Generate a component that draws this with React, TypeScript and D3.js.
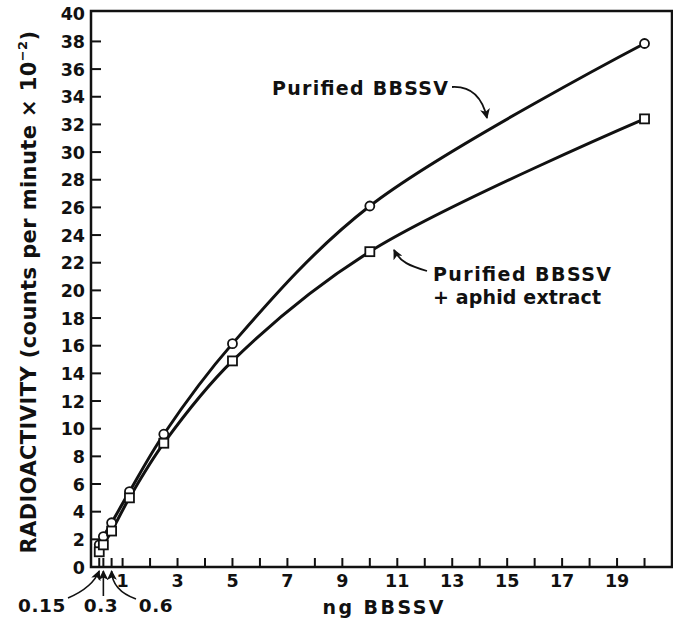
import React, { useEffect, useRef } from 'react'
import * as d3 from 'd3'

// ng BBSSV on the x axis
const doses = [0.15, 0.3, 0.6, 1.25, 2.5, 5, 10, 20]
// radioactivity, counts per minute x 10^-2
const purified = [1.6, 2.2, 3.2, 5.45, 9.6, 16.15, 26.1, 37.85]
const withAphid = [1.1, 1.6, 2.6, 5.0, 8.95, 14.9, 22.8, 32.4]

const xTicks = [0.15, 0.3, 0.6, 1, 2, 3, 4, 5, 6, 7, 8, 9, 10, 11, 12, 13, 14, 15, 16, 17, 18, 19, 20]
const xTickLabels = [1, 3, 5, 7, 9, 11, 13, 15, 17, 19]
const yTicks = [2, 4, 6, 8, 10, 12, 14, 16, 18, 20, 22, 24, 26, 28, 30, 32, 34, 36, 38]
const yTickLabels = [0, 2, 4, 6, 8, 10, 12, 14, 16, 18, 20, 22, 24, 26, 28, 30, 32, 34, 36, 38, 40]
const smallDoseLabels = ['0.15', '0.3', '0.6']

const W = 673, H = 619
const FONT = '"DejaVu Sans", "Liberation Sans", Arial, sans-serif'

export default function App() {
  const ref = useRef<SVGSVGElement>(null)

  useEffect(() => {
    const svg = d3.select(ref.current)
    svg.selectAll('*').remove()

    const left = 91, right = 672, top = 11, bottom = 567
    const x = d3.scaleLinear().domain([-0.15, 21]).range([left, right])
    const y = d3.scaleLinear().domain([0, 40.2]).range([bottom, top])

    const defs = svg.append('defs')
    defs.append('marker')
      .attr('id', 'arrow')
      .attr('viewBox', '0 0 10 10')
      .attr('refX', 9).attr('refY', 5)
      .attr('markerWidth', 10).attr('markerHeight', 10)
      .attr('markerUnits', 'userSpaceOnUse')
      .attr('orient', 'auto')
      .append('path')
      .attr('d', 'M0,0 L10,5 L0,10 L2.5,5 Z')
      .attr('fill', '#111')

    const g = svg.append('g')

    // frame
    g.append('path')
      .attr('d', `M${left},${bottom} L${left},${top} L${right},${top} L${right},${bottom} Z`)
      .attr('fill', 'none').attr('stroke', '#111').attr('stroke-width', 2.5)

    // inward ticks
    g.selectAll('line.xt').data(xTicks).enter().append('line')
      .attr('x1', d => x(d)).attr('x2', d => x(d))
      .attr('y1', bottom).attr('y2', bottom - 9)
      .attr('stroke', '#111').attr('stroke-width', 2)
    g.selectAll('line.yt').data(yTicks).enter().append('line')
      .attr('x1', left).attr('x2', left + 10)
      .attr('y1', d => y(d)).attr('y2', d => y(d))
      .attr('stroke', '#111').attr('stroke-width', 2)

    const labelStyle = (sel: any, size: number) => sel
      .style('font-family', FONT).style('font-weight', 'bold')
      .style('font-size', size + 'px').attr('fill', '#111')

    labelStyle(g.selectAll('text.yl').data(yTickLabels).enter().append('text')
      .attr('x', 85).attr('y', d => y(d) + 6.5)
      .attr('text-anchor', 'end')
      .text(d => d), 17.5)

    labelStyle(g.selectAll('text.xl').data(xTickLabels).enter().append('text')
      .attr('x', d => x(d)).attr('y', 587)
      .attr('text-anchor', 'middle')
      .text(d => d), 17.5)

    // small doses below the axis with arrows
    const smallX = [42, 101, 156]
    labelStyle(g.selectAll('text.sl').data(smallDoseLabels).enter().append('text')
      .attr('x', (d, i) => smallX[i]).attr('y', 612)
      .attr('text-anchor', 'middle')
      .style('letter-spacing', '0.6px')
      .text(d => d), 18.5)
    const smallArrows = [
      `M68,598 C82,592 94,584 ${x(0.15)},${bottom + 4}`,
      `M${x(0.3)},596 L${x(0.3)},${bottom + 4}`,
      `M136,599 C122,594 112,586 ${x(0.6)},${bottom + 4}`,
    ]
    g.selectAll('path.sa').data(smallArrows).enter().append('path')
      .attr('d', d => d)
      .attr('fill', 'none').attr('stroke', '#111').attr('stroke-width', 1.6)
      .attr('marker-end', 'url(#arrow)')

    // axis titles
    labelStyle(g.append('text')
      .attr('x', 383).attr('y', 614)
      .attr('text-anchor', 'middle')
      .attr('textLength', 121).attr('lengthAdjust', 'spacing')
      .text('ng BBSSV'), 19)

    const yt = labelStyle(g.append('text')
      .attr('transform', 'translate(36,292) rotate(-90)')
      .attr('text-anchor', 'middle')
      .style('letter-spacing', '0.4px'), 21)
    yt.append('tspan').text('RADIOACTIVITY (counts per minute \u00d7 10')
    yt.append('tspan').attr('dy', -9).style('font-size', '13px').text('\u2212' + '2')
    yt.append('tspan').attr('dy', 9).text(')')

    // curves
    const series = [purified, withAphid]
    const line = d3.line<number>()
      .x((d, i) => x(doses[i]))
      .y(d => y(d))
      .curve(d3.curveCatmullRom.alpha(0.5))
    g.selectAll('path.curve').data(series).enter().append('path')
      .attr('d', d => line(d))
      .attr('fill', 'none').attr('stroke', '#111').attr('stroke-width', 3)

    // markers
    g.selectAll('circle.pt').data(purified).enter().append('circle')
      .attr('cx', (d, i) => x(doses[i])).attr('cy', d => y(d))
      .attr('r', 4.5)
      .attr('fill', '#fff').attr('stroke', '#111').attr('stroke-width', 1.8)
    g.selectAll('rect.pt').data(withAphid).enter().append('rect')
      .attr('x', (d, i) => x(doses[i]) - 4.5).attr('y', d => y(d) - 4.5)
      .attr('width', 9).attr('height', 9)
      .attr('fill', '#fff').attr('stroke', '#111').attr('stroke-width', 1.8)

    // annotations
    labelStyle(g.append('text')
      .attr('x', 272).attr('y', 95)
      .attr('textLength', 176).attr('lengthAdjust', 'spacing')
      .text('Purified BBSSV'), 19)
    g.append('path')
      .attr('d', 'M452,87 C470,86 482,96 487,118')
      .attr('fill', 'none').attr('stroke', '#111').attr('stroke-width', 1.8)
      .attr('marker-end', 'url(#arrow)')

    labelStyle(g.append('text')
      .attr('x', 433).attr('y', 281)
      .attr('textLength', 178).attr('lengthAdjust', 'spacing')
      .text('Purified BBSSV'), 19)
    labelStyle(g.append('text')
      .attr('x', 433).attr('y', 304)
      .attr('textLength', 168).attr('lengthAdjust', 'spacing')
      .text('+ aphid extract'), 19)
    g.append('path')
      .attr('d', 'M427,271 C410,266 400,262 394,250')
      .attr('fill', 'none').attr('stroke', '#111').attr('stroke-width', 1.8)
      .attr('marker-end', 'url(#arrow)')
  }, [])

  return (
    <svg ref={ref} width={W} height={H}
      style={{ position: 'absolute', left: 0, top: 0, background: '#fff' }} />
  )
}
